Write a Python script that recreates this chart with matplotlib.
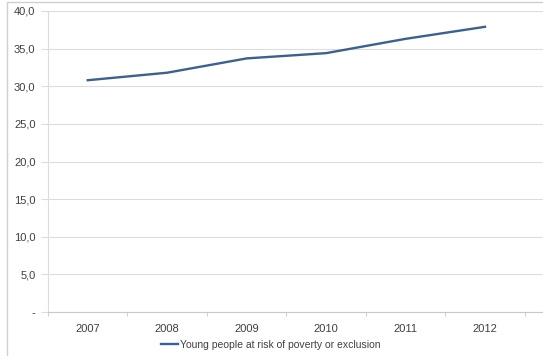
import matplotlib
matplotlib.use("Agg")
import matplotlib.pyplot as plt
from matplotlib.patches import Rectangle

# --- Daten ---
years = ["2007", "2008", "2009", "2010", "2011", "2012"]
at_risk = [30.8, 31.8, 33.7, 34.4, 36.3, 37.9]
y_ticks = [0, 5, 10, 15, 20, 25, 30, 35, 40]
y_labels = ["-", "5,0", "10,0", "15,0", "20,0", "25,0", "30,0", "35,0", "40,0"]

plt.rcParams["font.family"] = ["Liberation Sans", "DejaVu Sans"]

W, H = 543, 356
fig = plt.figure(figsize=(W / 100, H / 100), dpi=100)
ax = fig.add_axes([48 / W, 1 - 312 / H, 1 - 48 / W, (312 - 11) / H])

x = list(range(len(years)))
ax.plot(x, at_risk, color="#3c5f94", linewidth=1.7,
        label="Young people at risk of poverty or exclusion")

ax.set_xlim(-0.5, 5.73)
ax.set_ylim(0, 40)
ax.set_yticks(y_ticks)
ax.set_yticklabels(y_labels)
ax.set_xticks(x)
ax.set_xticklabels(years)
ax.set_xticks([i - 0.5 for i in range(7)], minor=True)

ax.grid(axis="y", color="#dcdcdc", linewidth=0.8)
ax.set_axisbelow(True)
for s in ["top", "right"]:
    ax.spines[s].set_visible(False)
ax.spines["left"].set_color("#dcdcdc")
ax.spines["bottom"].set_color("#c8c8c8")
ax.tick_params(axis="y", length=5, color="#dcdcdc", labelsize=8,
               labelcolor="#404040", pad=4)
ax.tick_params(axis="x", which="major", length=0, labelsize=8,
               labelcolor="#404040", pad=9)
ax.tick_params(axis="x", which="minor", length=3, color="#c8c8c8")

# --- Legende unten ---
leg = ax.legend(loc="center", bbox_to_anchor=(0.45, -0.11),
                frameon=False, fontsize=7.5, handlelength=1.6, handletextpad=0.2)
for t in leg.get_texts():
    t.set_color("#404040")

# äusserer Rahmen (abgeschnitten)
fig.patches.append(Rectangle((7 / W, -0.1), 1.2, 1 - 2 / H + 0.1,
                             transform=fig.transFigure, fill=False,
                             edgecolor="#d0d0d0", linewidth=1))

fig.savefig("out.png", dpi=100)
